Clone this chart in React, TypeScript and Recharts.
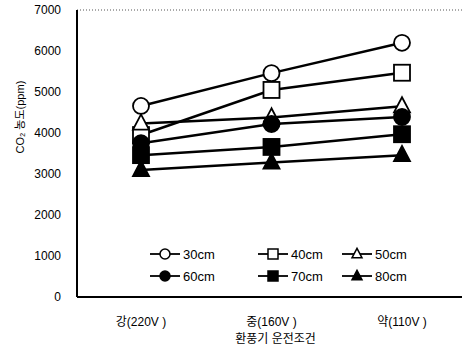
import React from 'react';
import { LineChart, Line, XAxis, YAxis, ReferenceLine } from 'recharts';

const categories = ['강(220V )', '중(160V )', '약(110V )'];
const s30 = [4660, 5460, 6200];
const s40 = [3950, 5050, 5470];
const s50 = [4230, 4380, 4650];
const s60 = [3750, 4220, 4390];
const s70 = [3460, 3660, 3970];
const s80 = [3100, 3280, 3460];
const yTicks = [0, 1000, 2000, 3000, 4000, 5000, 6000, 7000];

const seriesDefs = [
  { key: 's30', name: '30cm', shape: 'circle', fill: '#fff', values: s30 },
  { key: 's40', name: '40cm', shape: 'square', fill: '#fff', values: s40 },
  { key: 's50', name: '50cm', shape: 'triangle', fill: '#fff', values: s50 },
  { key: 's60', name: '60cm', shape: 'circle', fill: '#000', values: s60 },
  { key: 's70', name: '70cm', shape: 'square', fill: '#000', values: s70 },
  { key: 's80', name: '80cm', shape: 'triangle', fill: '#000', values: s80 },
];

const data = categories.map((c, i) => {
  const row: any = { cat: c };
  seriesDefs.forEach((s) => (row[s.key] = s.values[i]));
  return row;
});

const FONT = '"Liberation Sans", Arial, "Noto Sans CJK KR", sans-serif';

function Marker({ cx, cy, shape, fill, size, sw = 1.8 }: any) {
  if (cx == null || cy == null) return null;
  const r = size;
  if (shape === 'circle') {
    return <circle cx={cx} cy={cy} r={r} fill={fill} stroke="#000" strokeWidth={sw} />;
  }
  if (shape === 'square') {
    return <rect x={cx - r} y={cy - r} width={2 * r} height={2 * r} fill={fill} stroke="#000" strokeWidth={sw} />;
  }
  const h = r * 1.9;
  return (
    <polygon
      points={`${cx},${cy - h * 0.6} ${cx - r},${cy + h * 0.4} ${cx + r},${cy + h * 0.4}`}
      fill={fill}
      stroke="#000"
      strokeWidth={sw}
    />
  );
}

function LegendBox() {
  const cols = [0, 108, 192];
  const rows = [0, 22];
  return (
    <svg width={300} height={40} style={{ position: 'absolute', left: 150, top: 246, overflow: 'visible' }}>
      {seriesDefs.map((s, i) => {
        const x = cols[i % 3];
        const y = rows[Math.floor(i / 3)] + 8;
        return (
          <g key={s.key}>
            <line x1={x} y1={y} x2={x + 30} y2={y} stroke="#000" strokeWidth={1.8} />
            <Marker cx={x + 15} cy={y} shape={s.shape} fill={s.fill} size={5} sw={1.5} />
            <text x={x + 33} y={y + 4.5} fontSize={13} fontFamily={FONT} fill="#000">
              {s.name}
            </text>
          </g>
        );
      })}
    </svg>
  );
}

export default function App() {
  return (
    <div style={{ position: 'absolute', left: 0, top: 0, width: 462, height: 347, background: '#fff' }}>
      <LineChart width={462} height={347} data={data} margin={{ top: 10, right: 0, bottom: 0, left: 0 }}>
        <ReferenceLine y={7000} stroke="#555" strokeDasharray="1 2" strokeWidth={1} />
        <XAxis
          dataKey="cat"
          height={50}
          padding={{ left: 64, right: 60 }}
          axisLine={{ stroke: '#000', strokeWidth: 2 }}
          tickLine={false}
          tick={{ fill: '#000', fontSize: 12, fontFamily: FONT }}
          tickMargin={14}
          label={{ value: '환풍기 운전조건', position: 'insideBottom', offset: 4, dx: 6, fill: '#000', fontSize: 12, fontFamily: FONT }}
        />
        <YAxis
          width={77}
          domain={[0, 7000]}
          ticks={yTicks}
          interval={0}
          axisLine={{ stroke: '#000', strokeWidth: 2 }}
          tickLine={false}
          tick={{ fill: '#000', fontSize: 12, fontFamily: FONT }}
          tickMargin={10}
          label={{ value: 'CO₂ 농도(ppm)', angle: -90, position: 'insideLeft', offset: 20, fill: '#000', fontSize: 11, fontFamily: FONT }}
        />
        {seriesDefs.map((s) => (
          <Line
            key={s.key}
            dataKey={s.key}
            name={s.name}
            stroke="#000"
            strokeWidth={2.5}
            isAnimationActive={false}
            dot={(p: any) => <Marker key={`${s.key}-${p.index}`} cx={p.cx} cy={p.cy} shape={s.shape} fill={s.fill} size={8} />}
            activeDot={false}
          />
        ))}
      </LineChart>
      <LegendBox />
    </div>
  );
}
